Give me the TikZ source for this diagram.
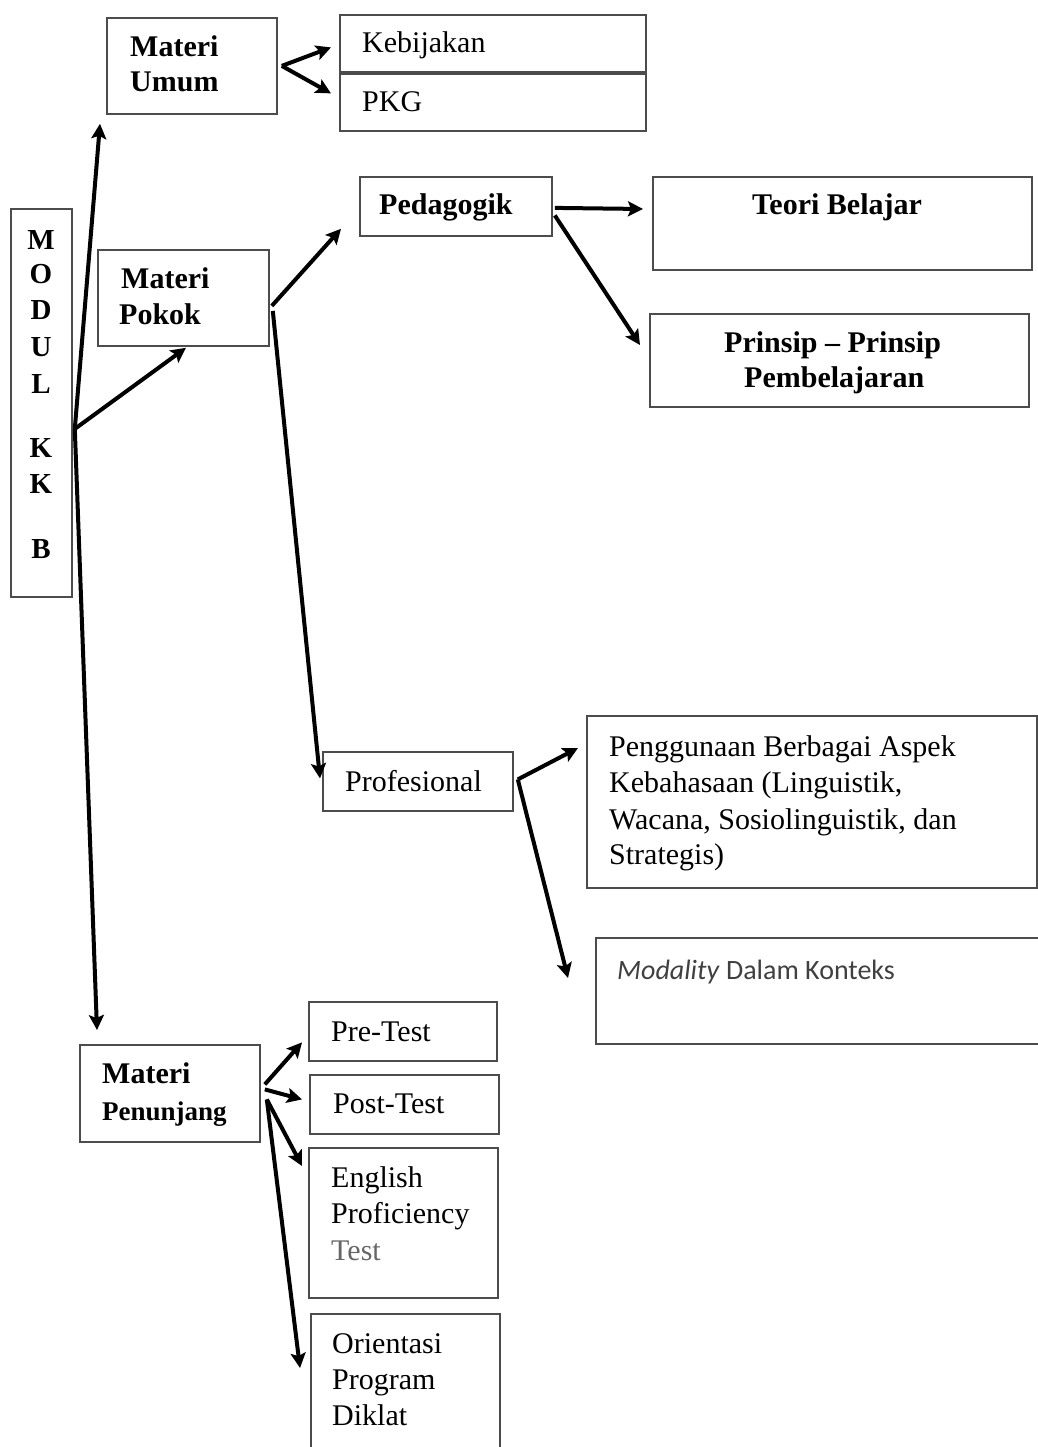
\documentclass[tikz,border=0pt]{standalone}
\usepackage{fontspec}
\setmainfont{Liberation Serif}
\newfontfamily\calibrifont{Carlito}
\usetikzlibrary{arrows.meta,calc}

\begin{document}
\begin{tikzpicture}[x=1pt,y=-1pt,
  box/.style={draw=black!70, line width=1.8pt, inner sep=0pt, anchor=north west},
  txt/.style={anchor=base west, inner sep=0pt, font=\fontsize{30}{36}\selectfont},
  btxt/.style={anchor=base west, inner sep=0pt, font=\fontsize{30}{36}\selectfont\bfseries},
  ltr/.style={anchor=base, inner sep=0pt, font=\fontsize{29}{36}\selectfont\bfseries},
  link/.style={line width=4pt, -{Stealth[length=15pt,width=15pt,inset=3pt]}},
]
\useasboundingbox (0,0) rectangle (1037,1447);

% ---- boxes ----
\node[box, minimum width=61pt,  minimum height=388pt] (modul)       at (10,208)  {};
\node[box, minimum width=170pt, minimum height=96pt]  (umum)        at (106,17)  {};
\node[box, minimum width=306pt, minimum height=57pt]  (kebijakan)   at (339,14)  {};
\node[box, minimum width=306pt, minimum height=57pt]  (pkg)         at (339,73)  {};
\node[box, minimum width=171pt, minimum height=96pt]  (pokok)       at (97,249)  {};
\node[box, minimum width=192pt, minimum height=59pt]  (pedagogik)   at (359,176) {};
\node[box, minimum width=379pt, minimum height=93pt]  (teori)       at (652,176) {};
\node[box, minimum width=379pt, minimum height=93pt]  (prinsip)     at (649,313) {};
\node[box, minimum width=190pt, minimum height=59pt]  (profesional) at (322,751) {};
\node[box, minimum width=450pt, minimum height=172pt] (penggunaan)  at (586,715) {};
\node[box, minimum width=450pt, minimum height=106pt] (modality)    at (595,937) {};
\node[box, minimum width=180pt, minimum height=97pt]  (penunjang)   at (79,1044) {};
\node[box, minimum width=188pt, minimum height=59pt]  (pretest)     at (308,1001) {};
\node[box, minimum width=189pt, minimum height=59pt]  (posttest)    at (309,1074) {};
\node[box, minimum width=189pt, minimum height=150pt] (english)     at (308,1147) {};
\node[box, minimum width=189pt, minimum height=145pt] (orientasi)   at (310,1313) {};

% ---- texts ----
\node[ltr] (m1) at (41,250) {M};
\node[ltr] (m2) at (41,283) {O};
\node[ltr] (m3) at (41,319) {D};
\node[ltr] (m4) at (41,356) {U};
\node[ltr] (m5) at (41,393) {L};
\node[ltr] (m6) at (41,457) {K};
\node[ltr] (m7) at (41,493) {K};
\node[ltr] (m8) at (41,558) {B};

\node[btxt] (tu1) at (130,57) {Materi};
\node[btxt] (tu2) at (130,92) {Umum};
\node[txt]  (tk)  at (362,53) {Kebijakan};
\node[txt]  (tp)  at (362,112) {PKG};

\node[btxt] (tpk1) at (121,288) {Materi};
\node[btxt] (tpk2) at (119,324) {Pokok};
\node[btxt] (tped) at (379,215) {Pedagogik};
\node[btxt] (tteo) at (752,215) {Teori Belajar};
\node[btxt] (tpr1) at (724,352) {Prinsip -- Prinsip};
\node[btxt] (tpr2) at (744,387) {Pembelajaran};

\node[txt] (tprof) at (345,791) {Profesional};
\node[txt] (tpg1) at (609,756) {Penggunaan Berbagai Aspek};
\node[txt] (tpg2) at (609,792) {Kebahasaan (Linguistik,};
\node[txt] (tpg3) at (609,829) {Wacana, Sosiolinguistik, dan};
\node[txt] (tpg4) at (609,864) {Strategis)};
\node[anchor=base west, inner sep=0pt, text=black!75,
      font=\calibrifont\fontsize{28}{34}\selectfont] (tmod) at (617,979)
      {\textit{Modality} Dalam Konteks};

\node[btxt] (tpn1) at (102,1083) {Materi};
\node[anchor=base west, inner sep=0pt, font=\fontsize{27}{34}\selectfont\bfseries]
      (tpn2) at (102,1120) {Penunjang};
\node[txt] (tpre) at (331,1041) {Pre-Test};
\node[txt] (tpost) at (333,1113) {Post-Test};
\node[txt] (ten1) at (331,1187) {English};
\node[txt] (ten2) at (331,1223) {Proficiency};
\node[txt, text=black!60] (ten3) at (331,1260) {Test};
\node[txt] (tor1) at (332,1353) {Orientasi};
\node[txt] (tor2) at (332,1389) {Program};
\node[txt] (tor3) at (332,1425) {Diklat};

% ---- connectors ----
\coordinate (hub) at ($(modul.east)+(2,26)$);
\draw[link] (hub) -- ($(umum.south west)+(-6,9)$);
\draw[link] (hub) -- ($(pokok.south west)+(89,1)$);
\draw[link] (hub) -- ($(penunjang.north west)+(18,-14)$);

\coordinate (fu) at ($(umum.east)+(4,0)$);
\draw[link] (fu) -- ($(kebijakan.west)+(-8,4)$);
\draw[link] (fu) -- ($(pkg.west)+(-8,-9)$);

\draw[link] ($(pokok.east)+(2,8)$) -- ($(pedagogik.south west)+(-18,-8)$);
\draw[link] ($(pokok.east)+(3,13)$) -- ($(profesional.west)+(-2,-3)$);

\draw[link] ($(pedagogik.east)+(2,1.5)$) -- ($(teori.north west)+(-9,33)$);
\draw[link] ($(pedagogik.east)+(2,9)$) -- ($(prinsip.north west)+(-9,32)$);

\coordinate (fp) at ($(profesional.east)+(4,-2)$);
\draw[link] (fp) -- ($(penggunaan.north west)+(-8,33)$);
\draw[link] (fp) -- ($(modality.north west)+(-27,41)$);

\draw[link] ($(penunjang.east)+(4,-9)$) -- ($(pretest.west)+(-6,11)$);
\draw[link] ($(penunjang.east)+(4,-4)$) -- ($(posttest.west)+(-7,-5)$);
\coordinate (fn) at ($(penunjang.east)+(6,6)$);
\draw[link] (fn) -- ($(english.north west)+(-6,19)$);
\draw[link] (fn) -- ($(orientasi.north west)+(-10,55)$);
\end{tikzpicture}
\end{document}
